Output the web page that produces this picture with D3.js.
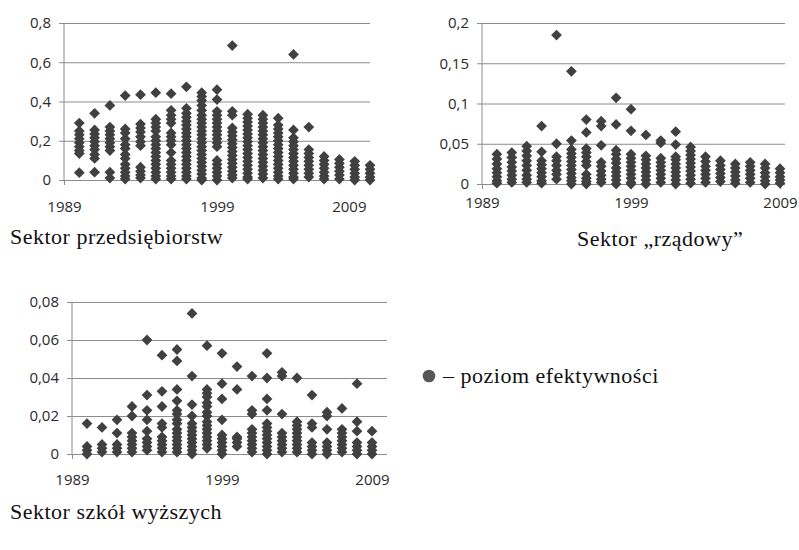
<!DOCTYPE html>
<html>
<head>
<meta charset="utf-8">
<script src="https://cdn.jsdelivr.net/npm/d3@7"></script>
<style>
  body { margin: 0; background: #fff; }
  .tick text { font-family: "Open Sans", sans-serif; font-size: 15px; fill: #2a2a2a; }
</style>
</head>
<body>
<div id="chart"></div>
<script>
// years on the x axis (one column of points per year)
const years = [1990, 1991, 1992, 1993, 1994, 1995, 1996, 1997, 1998, 1999,
               2000, 2001, 2002, 2003, 2004, 2005, 2006, 2007, 2008, 2009]
const xTicks = [1989, 1999, 2009]

// poziom efektywności - values per year
const sektorPrzedsiebiorstw = [
  [0.29, 0.25, 0.23, 0.21, 0.19, 0.17, 0.15, 0.135, 0.037],
  [0.34, 0.255, 0.235, 0.215, 0.195, 0.175, 0.155, 0.13, 0.11, 0.04],
  [0.38, 0.27, 0.25, 0.23, 0.21, 0.19, 0.17, 0.15, 0.04, 0.01],
  [0.43, 0.26, 0.24, 0.21, 0.18, 0.16, 0.13, 0.11, 0.08, 0.06, 0.04, 0.02, 0.005],
  [0.435, 0.285, 0.265, 0.245, 0.22, 0.195, 0.175, 0.065, 0.045, 0.025, 0.01],
  [0.445, 0.31, 0.29, 0.27, 0.25, 0.22, 0.2, 0.18, 0.16, 0.14, 0.12, 0.1, 0.08, 0.06, 0.04, 0.02, 0.005],
  [0.44, 0.355, 0.33, 0.31, 0.29, 0.24, 0.22, 0.2, 0.18, 0.14, 0.1, 0.08, 0.06, 0.04, 0.02, 0.005],
  [0.475, 0.365, 0.34, 0.32, 0.3, 0.28, 0.26, 0.24, 0.22, 0.2, 0.18, 0.16, 0.14, 0.12, 0.1, 0.08, 0.06, 0.04, 0.02, 0.005],
  [0.445, 0.425, 0.405, 0.38, 0.355, 0.33, 0.31, 0.29, 0.27, 0.25, 0.23, 0.21, 0.19, 0.17, 0.15, 0.13, 0.11, 0.09, 0.07, 0.05, 0.03, 0.01, 0.0],
  [0.46, 0.41, 0.35, 0.33, 0.31, 0.29, 0.27, 0.25, 0.23, 0.21, 0.19, 0.17, 0.1, 0.08, 0.06, 0.04, 0.02, 0.0],
  [0.685, 0.35, 0.33, 0.265, 0.245, 0.225, 0.205, 0.185, 0.165, 0.145, 0.125, 0.105, 0.085, 0.065, 0.045, 0.025, 0.01],
  [0.335, 0.315, 0.295, 0.275, 0.255, 0.235, 0.215, 0.195, 0.175, 0.155, 0.135, 0.115, 0.095, 0.075, 0.055, 0.035, 0.015, 0.005],
  [0.33, 0.31, 0.29, 0.27, 0.25, 0.23, 0.21, 0.19, 0.17, 0.15, 0.13, 0.11, 0.09, 0.07, 0.05, 0.03, 0.01],
  [0.315, 0.28, 0.26, 0.24, 0.22, 0.2, 0.18, 0.16, 0.14, 0.12, 0.1, 0.08, 0.06, 0.04, 0.02, 0.005],
  [0.64, 0.255, 0.215, 0.195, 0.175, 0.155, 0.135, 0.115, 0.095, 0.075, 0.055, 0.035, 0.015, 0.005],
  [0.27, 0.155, 0.135, 0.115, 0.095, 0.075, 0.055, 0.035, 0.015],
  [0.12, 0.1, 0.08, 0.06, 0.04, 0.02, 0.005],
  [0.105, 0.085, 0.065, 0.045, 0.025, 0.005],
  [0.095, 0.075, 0.055, 0.035, 0.015, 0.0],
  [0.075, 0.055, 0.035, 0.015, 0.0]
]

const sektorRzadowy = [
  [0.037, 0.031, 0.025, 0.019, 0.014, 0.009, 0.004, 0.001],
  [0.039, 0.033, 0.027, 0.021, 0.016, 0.011, 0.006, 0.002],
  [0.047, 0.041, 0.035, 0.029, 0.023, 0.017, 0.011, 0.006, 0.002],
  [0.072, 0.04, 0.029, 0.024, 0.019, 0.014, 0.009, 0.004, 0.001],
  [0.185, 0.05, 0.034, 0.029, 0.023, 0.017, 0.012, 0.006],
  [0.14, 0.054, 0.043, 0.038, 0.033, 0.028, 0.023, 0.018, 0.013, 0.008, 0.004, 0.0],
  [0.08, 0.064, 0.044, 0.039, 0.034, 0.028, 0.023, 0.012, 0.007, 0.003, 0.0],
  [0.078, 0.072, 0.048, 0.027, 0.022, 0.016, 0.011, 0.006, 0.002],
  [0.107, 0.074, 0.042, 0.037, 0.031, 0.026, 0.02, 0.015, 0.01, 0.005, 0.0],
  [0.093, 0.066, 0.037, 0.032, 0.027, 0.022, 0.017, 0.012, 0.007, 0.002, 0.0],
  [0.061, 0.035, 0.03, 0.025, 0.02, 0.015, 0.01, 0.005, 0.0],
  [0.054, 0.051, 0.032, 0.027, 0.022, 0.017, 0.012, 0.007, 0.002],
  [0.065, 0.049, 0.034, 0.03, 0.025, 0.02, 0.015, 0.01, 0.005, 0.0],
  [0.046, 0.041, 0.036, 0.031, 0.026, 0.021, 0.016, 0.011, 0.006, 0.001],
  [0.034, 0.028, 0.022, 0.017, 0.012, 0.007, 0.002],
  [0.029, 0.023, 0.018, 0.013, 0.008, 0.003],
  [0.025, 0.02, 0.015, 0.01, 0.005, 0.001],
  [0.027, 0.022, 0.017, 0.012, 0.007, 0.002],
  [0.025, 0.02, 0.014, 0.009, 0.004, 0.0],
  [0.019, 0.014, 0.009, 0.005, 0.001]
]

const sektorSzkolWyzszych = [
  [0.016, 0.004, 0.002, 0.0],
  [0.014, 0.005, 0.003, 0.001],
  [0.018, 0.011, 0.005, 0.003, 0.001],
  [0.025, 0.02, 0.011, 0.009, 0.007, 0.005, 0.003, 0.001],
  [0.06, 0.031, 0.023, 0.018, 0.012, 0.008, 0.006, 0.004, 0.002],
  [0.052, 0.033, 0.025, 0.016, 0.014, 0.009, 0.007, 0.005, 0.003, 0.001],
  [0.055, 0.049, 0.034, 0.028, 0.023, 0.021, 0.018, 0.016, 0.013, 0.011, 0.009, 0.007, 0.005, 0.003, 0.001],
  [0.074, 0.041, 0.026, 0.02, 0.016, 0.014, 0.012, 0.01, 0.008, 0.006, 0.004, 0.002, 0.0],
  [0.057, 0.034, 0.032, 0.03, 0.027, 0.025, 0.022, 0.02, 0.017, 0.015, 0.013, 0.011, 0.009, 0.007, 0.005, 0.003],
  [0.053, 0.037, 0.029, 0.018, 0.01, 0.008, 0.006, 0.004, 0.002, 0.0],
  [0.046, 0.034, 0.009, 0.008, 0.006, 0.004],
  [0.041, 0.023, 0.021, 0.013, 0.011, 0.009, 0.007, 0.005, 0.003, 0.001],
  [0.053, 0.04, 0.029, 0.023, 0.016, 0.014, 0.012, 0.01, 0.008, 0.006, 0.004, 0.002, 0.0],
  [0.043, 0.041, 0.021, 0.011, 0.009, 0.007, 0.005, 0.003, 0.001],
  [0.04, 0.017, 0.015, 0.013, 0.011, 0.009, 0.007, 0.005, 0.003, 0.001],
  [0.031, 0.016, 0.014, 0.006, 0.004, 0.002, 0.0],
  [0.022, 0.02, 0.013, 0.006, 0.004, 0.002, 0.0],
  [0.024, 0.013, 0.011, 0.009, 0.007, 0.005, 0.003, 0.001],
  [0.037, 0.017, 0.012, 0.006, 0.004, 0.002, 0.0],
  [0.012, 0.006, 0.004, 0.002, 0.0]
]

const yTicksPrzeds = [0, 0.2, 0.4, 0.6, 0.8]
const yTicksRzad = [0, 0.05, 0.1, 0.15, 0.2]
const yTicksSzkol = [0, 0.02, 0.04, 0.06, 0.08]

const titles = ["Sektor przedsiębiorstw", "Sektor „rządowy”", "Sektor szkół wyższych"]
const legendLabel = "– poziom efektywności"

// ----------------------------------------------------------

const markerColor = "#404040"
const gridColor = "#8c8c8c"
const serif = "'Liberation Serif', 'DejaVu Serif', 'Times New Roman', serif"
const fmt = d => d3.format("")(d).replace(".", ",")

const svg = d3.select("#chart")
    .append("svg")
    .attr("width", 799)
    .attr("height", 550)

// excel-like diamond marker
const diamond = {
    draw(ctx, size) {
        const r = Math.sqrt(size / 2)
        ctx.moveTo(0, -r); ctx.lineTo(r, 0); ctx.lineTo(0, r); ctx.lineTo(-r, 0); ctx.closePath()
    }
}

function addText(x, y, txt) {
    return svg.append("text")
        .attr("x", x).attr("y", y)
        .style("font-family", serif).style("font-size", "22px")
        .style("letter-spacing", "0.5px").style("fill", "#111")
        .text(txt)
}

function drawPanel(p, values, yTicks) {
    const g = svg.append("g")
    const x = d3.scaleLinear().domain([1989, 2009]).range([p.x0, p.x1])
    const y = d3.scaleLinear().domain([0, yTicks[yTicks.length - 1]]).range([p.y0, p.y1])

    // gridlines + y labels
    const yAxis = d3.axisLeft(y).tickValues(yTicks).tickFormat(fmt)
        .tickSize(-(p.right - p.x0)).tickPadding(13)
    const yg = g.append("g").attr("transform", `translate(${p.x0},0)`).call(yAxis)
    yg.select(".domain").remove()
    yg.selectAll(".tick line").attr("stroke", gridColor).attr("x1", -5).attr("x2", p.right - p.x0)

    // vertical axis line
    g.append("line").attr("x1", p.x0).attr("x2", p.x0)
        .attr("y1", y.range()[1]).attr("y2", y.range()[0])
        .attr("stroke", gridColor)

    // x axis
    const xAxis = d3.axisBottom(x).tickValues(xTicks).tickFormat(d3.format("d"))
        .tickSize(5).tickPadding(p.xPad)
    const xg = g.append("g").attr("transform", `translate(0,${p.y0})`).call(xAxis)
    xg.select(".domain").remove()
    xg.selectAll(".tick line").attr("stroke", gridColor)
    if (p.lastEnd) {
        xg.selectAll(".tick text").filter(d => d === 2009)
            .attr("text-anchor", "end").attr("x", p.lastEnd - x(2009))
    }

    const pts = []
    years.forEach((yr, i) => values[i].forEach(v => pts.push({ year: yr, v: v })))

    g.append("g").selectAll("path").data(pts).enter()
        .append("path")
        .attr("d", d3.symbol().type(diamond).size(58))
        .attr("transform", d => `translate(${x(d.year)},${y(d.v)})`)
        .attr("fill", markerColor)

    addText(p.tx, p.ty, p.title)
}

drawPanel({ x0: 64, x1: 370, right: 370, y0: 180, y1: 23, xPad: 16, lastEnd: 366,
            tx: 10, ty: 244, title: titles[0] }, sektorPrzedsiebiorstw, yTicksPrzeds)
drawPanel({ x0: 482, x1: 780, right: 785, y0: 184, y1: 23, xPad: 8,
            tx: 577, ty: 246, title: titles[1] }, sektorRzadowy, yTicksRzad)
drawPanel({ x0: 72, x1: 372, right: 387, y0: 454, y1: 302, xPad: 15,
            tx: 10, ty: 519, title: titles[2] }, sektorSzkolWyzszych, yTicksSzkol)

// legend
svg.append("circle").attr("cx", 429).attr("cy", 376).attr("r", 6.3).attr("fill", "#555")
addText(443, 383, legendLabel)
</script>
</body>
</html>
